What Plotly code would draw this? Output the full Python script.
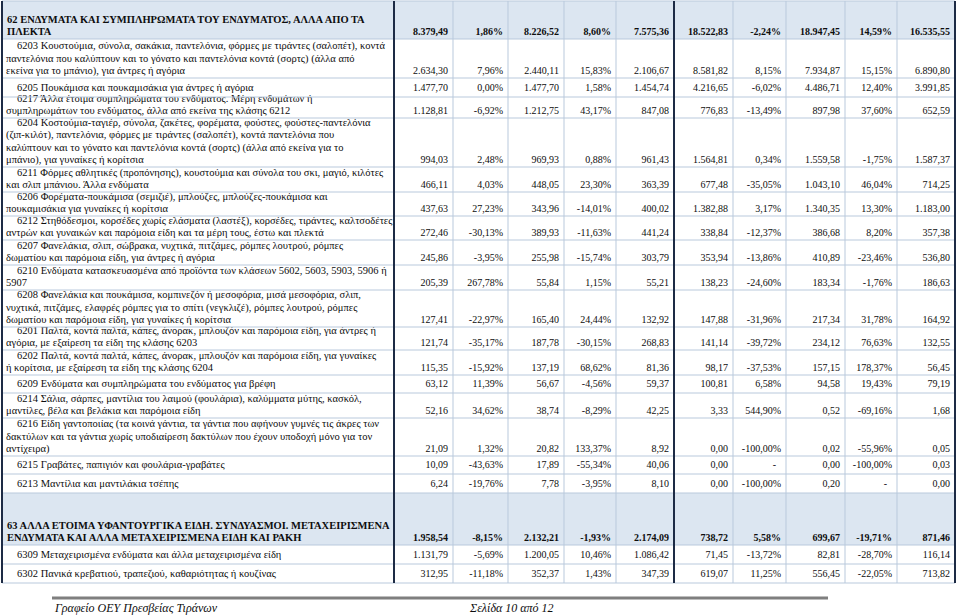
import plotly.graph_objects as go

# ---- table content -------------------------------------------------------
descriptions = [
    ["62 ΕΝΔΥΜΑΤΑ ΚΑΙ ΣΥΜΠΛΗΡΩΜΑΤΑ ΤΟΥ ΕΝΔΥΜΑΤΟΣ, ΑΛΛΑ ΑΠΟ ΤΑ", "ΠΛΕΚΤΑ"],
    ["6203 Κουστούμια, σύνολα, σακάκια, παντελόνια, φόρμες με τιράντες (σαλοπέτ), κοντά",
     "παντελόνια που καλύπτουν και το γόνατο και παντελόνια κοντά (σορτς) (άλλα από",
     "εκείνα για το μπάνιο), για άντρες ή αγόρια"],
    ["6205 Πουκάμισα και πουκαμισάκια για άντρες ή αγόρια"],
    ["6217 Άλλα έτοιμα συμπληρώματα του ενδύματος. Μέρη ενδυμάτων ή",
     "συμπληρωμάτων του ενδύματος, άλλα από εκείνα της κλάσης 6212"],
    ["6204 Κοστούμια-ταγιέρ, σύνολα, ζακέτες, φορέματα, φούστες, φούστες-παντελόνια",
     "(ζιπ-κιλότ), παντελόνια, φόρμες με τιράντες (σαλοπέτ), κοντά παντελόνια που",
     "καλύπτουν και το γόνατο και παντελόνια κοντά (σορτς) (άλλα από εκείνα για το",
     "μπάνιο), για γυναίκες ή κορίτσια"],
    ["6211 Φόρμες αθλητικές (προπόνησης), κουστούμια και σύνολα του σκι, μαγιό, κιλότες",
     "και σλιπ μπάνιου. Άλλα ενδύματα"],
    ["6206 Φορέματα-πουκάμισα (σεμιζιέ), μπλούζες, μπλούζες-πουκάμισα και",
     "πουκαμισάκια για γυναίκες ή κορίτσια"],
    ["6212 Στηθόδεσμοι, κορσέδες χωρίς ελάσματα (λαστέξ), κορσέδες, τιράντες, καλτσοδέτες",
     "αντρών και γυναικών και παρόμοια είδη και τα μέρη τους, έστω και πλεκτά"],
    ["6207 Φανελάκια, σλιπ, σώβρακα, νυχτικά, πιτζάμες, ρόμπες λουτρού, ρόμπες",
     "δωματίου και παρόμοια είδη, για άντρες ή αγόρια"],
    ["6210 Ενδύματα κατασκευασμένα από προϊόντα των κλάσεων 5602, 5603, 5903, 5906 ή",
     "5907"],
    ["6208 Φανελάκια και πουκάμισα, κομπινεζόν ή μεσοφόρια, μισά μεσοφόρια, σλιπ,",
     "νυχτικά, πιτζάμες, ελαφρές ρόμπες για το σπίτι (νεγκλιζέ), ρόμπες λουτρού, ρόμπες",
     "δωματίου και παρόμοια είδη, για γυναίκες ή κορίτσια"],
    ["6201 Παλτά, κοντά παλτά, κάπες, άνορακ, μπλουζόν και παρόμοια είδη, για άντρες ή",
     "αγόρια, με εξαίρεση τα είδη της κλάσης 6203"],
    ["6202 Παλτά, κοντά παλτά, κάπες, άνορακ, μπλουζόν και παρόμοια είδη, για γυναίκες",
     "ή κορίτσια, με εξαίρεση τα είδη της κλάσης 6204"],
    ["6209 Ενδύματα και συμπληρώματα του ενδύματος για βρέφη"],
    ["6214 Σάλια, σάρπες, μαντίλια του λαιμού (φουλάρια), καλύμματα μύτης, κασκόλ,",
     "μαντίλες, βέλα και βελάκια και παρόμοια είδη"],
    ["6216 Είδη γαντοποιίας (τα κοινά γάντια, τα γάντια που αφήνουν γυμνές τις άκρες των",
     "δακτύλων και τα γάντια χωρίς υποδιαίρεση δακτύλων που έχουν υποδοχή μόνο για τον",
     "αντίχειρα)"],
    ["6215 Γραβάτες, παπιγιόν και φουλάρια-γραβάτες"],
    ["6213 Μαντίλια και μαντιλάκια τσέπης"],
    ["63 ΑΛΛΑ ΕΤΟΙΜΑ ΥΦΑΝΤΟΥΡΓΙΚΑ ΕΙΔΗ. ΣΥΝΔΥΑΣΜΟΙ. ΜΕΤΑΧΕΙΡΙΣΜΕΝΑ",
     "ΕΝΔΥΜΑΤΑ ΚΑΙ ΑΛΛΑ ΜΕΤΑΧΕΙΡΙΣΜΕΝΑ ΕΙΔΗ ΚΑΙ ΡΑΚΗ"],
    ["6309 Μεταχειρισμένα ενδύματα και άλλα μεταχειρισμένα είδη"],
    ["6302 Πανικά κρεβατιού, τραπεζιού, καθαριότητας ή κουζίνας"],
]
chapter_rows = [0, 18]

val_1 = [8379.49, 2634.30, 1477.70, 1128.81, 994.03, 466.11, 437.63, 272.46, 245.86, 205.39,
         127.41, 121.74, 115.35, 63.12, 52.16, 21.09, 10.09, 6.24, 1958.54, 1131.79, 312.95]
chg_1 = [1.86, 7.96, 0.00, -6.92, 2.48, 4.03, 27.23, -30.13, -3.95, 267.78,
         -22.97, -35.17, -15.92, 11.39, 34.62, 1.32, -43.63, -19.76, -8.15, -5.69, -11.18]
val_2 = [8226.52, 2440.11, 1477.70, 1212.75, 969.93, 448.05, 343.96, 389.93, 255.98, 55.84,
         165.40, 187.78, 137.19, 56.67, 38.74, 20.82, 17.89, 7.78, 2132.21, 1200.05, 352.37]
chg_2 = [8.60, 15.83, 1.58, 43.17, 0.88, 23.30, -14.01, -11.63, -15.74, 1.15,
         24.44, -30.15, 68.62, -4.56, -8.29, 133.37, -55.34, -3.95, -1.93, 10.46, 1.43]
val_3 = [7575.36, 2106.67, 1454.74, 847.08, 961.43, 363.39, 400.02, 441.24, 303.79, 55.21,
         132.92, 268.83, 81.36, 59.37, 42.25, 8.92, 40.06, 8.10, 2174.09, 1086.42, 347.39]
val_4 = [18522.83, 8581.82, 4216.65, 776.83, 1564.81, 677.48, 1382.88, 338.84, 353.94, 138.23,
         147.88, 141.14, 98.17, 100.81, 3.33, 0.00, 0.00, 0.00, 738.72, 71.45, 619.07]
chg_4 = [-2.24, 8.15, -6.02, -13.49, 0.34, -35.05, 3.17, -12.37, -13.86, -24.60,
         -31.96, -39.72, -37.53, 6.58, 544.90, -100.00, None, -100.00, 5.58, -13.72, 11.25]
val_5 = [18947.45, 7934.87, 4486.71, 897.98, 1559.58, 1043.10, 1340.35, 386.68, 410.89, 183.34,
         217.34, 234.12, 157.15, 94.58, 0.52, 0.02, 0.00, 0.20, 699.67, 82.81, 556.45]
chg_5 = [14.59, 15.15, 12.40, 37.60, -1.75, 46.04, 13.30, 8.20, -23.46, -1.76,
         31.78, 76.63, 178.37, 19.43, -69.16, -55.96, -100.00, None, -19.71, -28.70, -22.05]
val_6 = [16535.55, 6890.80, 3991.85, 652.59, 1587.37, 714.25, 1183.00, 357.38, 536.80, 186.63,
         164.92, 132.55, 56.45, 79.19, 1.68, 0.05, 0.03, 0.00, 871.46, 116.14, 713.82]

footer_left = "Γραφείο ΟΕΥ Πρεσβείας Τιράνων"
footer_right = "Σελίδα 10 από 12"

# ---- page geometry (pixels) -----------------------------------------------
W, H = 960, 616
col_edges = [2, 394, 453, 508, 564, 616, 674, 733, 786, 845, 897, 955]
row_edges = [1, 39, 78, 97, 118, 167, 192, 216, 240, 265, 290, 327, 350, 375,
             393, 418, 456, 474, 493, 545, 564, 583]
heavy_cols = [0, 1, 6, 11]
line_h = 12.1
bottom_gap = 7
single_gap = 8.5
pad = 5

FONT = "Liberation Serif"
TXT = "#0d0d0d"
HEAD_FILL = "#dce6f1"
GRID = "#b9c9dc"
DARK = "#1d2b45"


def gr(v):
    s = f"{v:,.2f}"
    return s.replace(",", "_").replace(".", ",").replace("_", ".")


def gr_pct(v):
    return "-\u00a0\u00a0" if v is None else gr(v) + "%"


columns = [(val_1, gr), (chg_1, gr_pct), (val_2, gr), (chg_2, gr_pct), (val_3, gr),
           (val_4, gr), (chg_4, gr_pct), (val_5, gr), (chg_5, gr_pct), (val_6, gr)]

n_rows = len(descriptions)
last_y = [row_edges[i + 1] - (single_gap if len(descriptions[i]) == 1 else bottom_gap)
          for i in range(n_rows)]


def bold(s, i):
    return f"<b>{s}</b>" if i in chapter_rows else s


fig = go.Figure()

# description lines
dx, dy, dt = [], [], []
for i, lines in enumerate(descriptions):
    for k, line in enumerate(lines):
        dy.append(last_y[i] - (len(lines) - 1 - k) * line_h)
        if i in chapter_rows:
            dx.append(col_edges[0] + 5)
        else:
            dx.append(col_edges[0] + (15 if k == 0 else 4))
        dt.append(bold(line, i))
fig.add_trace(go.Scatter(x=dx, y=dy, text=dt, mode="text", textposition="middle right",
                         textfont=dict(family=FONT, size=10.5, color=TXT),
                         hoverinfo="skip", showlegend=False))

# numeric columns
for j, (vals, f) in enumerate(columns):
    right = col_edges[j + 2] - pad
    fig.add_trace(go.Scatter(
        x=[right] * n_rows, y=last_y,
        text=[bold(f(v), i) for i, v in enumerate(vals)],
        mode="text", textposition="middle left",
        textfont=dict(family=FONT, size=10, color=TXT),
        hoverinfo="skip", showlegend=False))

shapes = []
for i in chapter_rows:
    shapes.append(dict(type="rect", x0=col_edges[0], x1=col_edges[-1],
                       y0=row_edges[i], y1=row_edges[i + 1],
                       fillcolor=HEAD_FILL, line_width=0, layer="below"))
for y in row_edges:
    shapes.append(dict(type="line", x0=col_edges[0], x1=col_edges[-1], y0=y, y1=y,
                       line=dict(color=GRID, width=1)))
for c, x in enumerate(col_edges):
    if c in heavy_cols:
        continue
    shapes.append(dict(type="line", x0=x, x1=x, y0=row_edges[0], y1=row_edges[-1],
                       line=dict(color=GRID, width=1)))
for c in heavy_cols:
    x = col_edges[c]
    shapes.append(dict(type="line", x0=x, x1=x, y0=row_edges[0], y1=row_edges[-1],
                       line=dict(color=DARK, width=2)))
# footer rule
shapes.append(dict(type="line", x0=52, x1=828, y0=598, y1=598,
                   line=dict(color="#7f7f7f", width=3)))

annotations = [
    dict(x=52, y=608, text=f"<i>{footer_left}</i>", showarrow=False, xanchor="left",
         yanchor="middle", font=dict(family=FONT, size=12, color=TXT)),
    dict(x=467, y=608, text=f"<i>{footer_right}</i>", showarrow=False, xanchor="left",
         yanchor="middle", font=dict(family=FONT, size=12, color=TXT)),
]

fig.update_layout(
    width=W, height=H, margin=dict(l=0, r=0, t=0, b=0),
    paper_bgcolor="white", plot_bgcolor="white",
    xaxis=dict(range=[0, W], visible=False, fixedrange=True),
    yaxis=dict(range=[H, 0], visible=False, fixedrange=True),
    shapes=shapes, annotations=annotations,
)

# the page body has a default 8px margin; drop it so the figure sits at 0,0
fig.write_html("out.html", config={"displayModeBar": False},
               post_script="document.body.style.margin='0px';")
